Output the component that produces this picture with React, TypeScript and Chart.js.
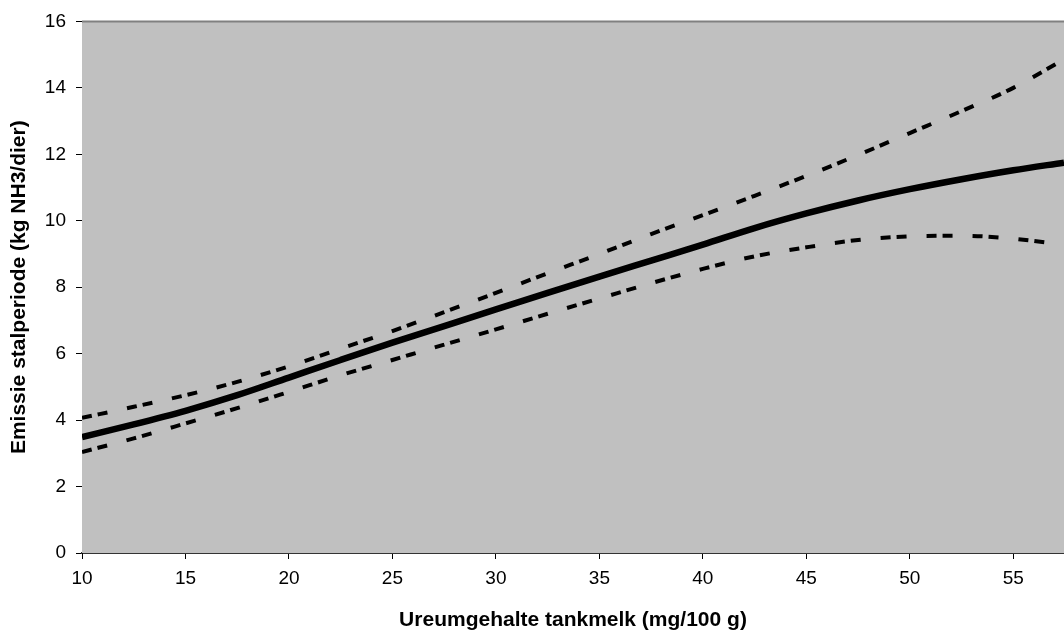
import React, { useEffect, useRef } from "react";
import { Chart, registerables } from "chart.js";

Chart.register(...registerables);

const xValues = [10, 12.5, 15, 17.5, 20, 22.5, 25, 27.5, 30, 32.5, 35, 37.5, 40, 42.5, 45, 47.5, 50, 52.5, 55, 57.45];
const fitValues = [3.49, 3.87, 4.28, 4.75, 5.28, 5.81, 6.33, 6.83, 7.33, 7.83, 8.32, 8.8, 9.28, 9.78, 10.22, 10.61, 10.95, 11.25, 11.52, 11.75];
const upperValues = [4.07, 4.4, 4.75, 5.15, 5.62, 6.15, 6.68, 7.25, 7.83, 8.42, 9.0, 9.6, 10.17, 10.75, 11.35, 11.98, 12.64, 13.3, 14.0, 14.86];
const lowerValues = [3.04, 3.45, 3.9, 4.36, 4.85, 5.35, 5.81, 6.27, 6.73, 7.2, 7.66, 8.12, 8.55, 8.93, 9.2, 9.42, 9.53, 9.55, 9.46, 9.28];
const xTicks = [10, 15, 20, 25, 30, 35, 40, 45, 50, 55];
const yTicks = [0, 2, 4, 6, 8, 10, 12, 14, 16];

const xTitle = "Ureumgehalte tankmelk (mg/100 g)";
const yTitle = "Emissie stalperiode (kg NH3/dier)";

const toPoints = (ys: number[]) => xValues.map((x, i) => ({ x, y: ys[i] }));

const plotFrame = {
  id: "plotFrame",
  beforeDatasetsDraw(chart: any) {
    const { ctx, chartArea } = chart;
    const { left, top, right, bottom } = chartArea;
    ctx.save();
    ctx.fillStyle = "#C0C0C0";
    ctx.fillRect(left, top, right - left, bottom - top);
    ctx.strokeStyle = "#808080";
    ctx.lineWidth = 2;
    ctx.beginPath();
    ctx.moveTo(left, top);
    ctx.lineTo(right, top);
    ctx.stroke();
    ctx.restore();
  },
};

export default function App() {
  const ref = useRef<HTMLCanvasElement | null>(null);

  useEffect(() => {
    if (!ref.current) return;
    const font = "'Liberation Sans', Arial, sans-serif";
    const dashed = {
      borderColor: "#000000",
      borderWidth: 4,
      borderDash: [10, 6, 10, 20],
      pointRadius: 0,
      cubicInterpolationMode: "monotone",
      fill: false,
    };
    const chart = new Chart(ref.current, {
      type: "line",
      data: {
        datasets: [
          { ...dashed, data: toPoints(upperValues) },
          { ...dashed, data: toPoints(lowerValues) },
          {
            data: toPoints(fitValues),
            borderColor: "#000000",
            borderWidth: 6.5,
            pointRadius: 0,
            cubicInterpolationMode: "monotone",
            fill: false,
          },
        ],
      },
      options: {
        animation: false,
        responsive: false,
        maintainAspectRatio: false,
        layout: { padding: { top: 20, right: 0, bottom: 0, left: 0 } },
        plugins: { legend: { display: false }, tooltip: { enabled: false } },
        scales: {
          x: {
            type: "linear",
            min: 10,
            max: 57.45,
            afterBuildTicks: (scale: any) => {
              scale.ticks = xTicks.map((v) => ({ value: v }));
            },
            afterFit: (scale: any) => {
              scale.height = 80;
            },
            grid: {
              drawOnChartArea: false,
              drawTicks: true,
              tickLength: 6,
              tickColor: "#000000",
              tickWidth: 1,
            },
            border: { display: true, color: "#333333", width: 2 },
            ticks: {
              color: "#000000",
              font: { family: font, size: 19 },
              padding: 8,
              maxRotation: 0,
              autoSkip: false,
            },
            title: {
              display: true,
              text: xTitle,
              color: "#000000",
              font: { family: font, size: 21, weight: "bold" },
              padding: { top: 0, bottom: 0 },
            },
          },
          y: {
            type: "linear",
            min: 0,
            max: 16,
            afterBuildTicks: (scale: any) => {
              scale.ticks = yTicks.map((v) => ({ value: v }));
            },
            afterFit: (scale: any) => {
              scale.width = 82;
            },
            grid: {
              drawOnChartArea: false,
              drawTicks: true,
              tickLength: 6,
              tickColor: "#000000",
              tickWidth: 1,
            },
            border: { display: true, color: "#000000", width: 1 },
            ticks: {
              color: "#000000",
              font: { family: font, size: 19 },
              padding: 10,
              autoSkip: false,
            },
            title: {
              display: true,
              text: yTitle,
              color: "#000000",
              font: { family: font, size: 21, weight: "bold" },
              padding: { top: 7, bottom: 0 },
            },
          },
        },
      },
      plugins: [plotFrame],
    } as any);
    return () => chart.destroy();
  }, []);

  return (
    <div style={{ position: "absolute", left: 0, top: 0, width: 1064, height: 633, background: "#ffffff" }}>
      <canvas ref={ref} width={1064} height={633} style={{ display: "block", width: 1064, height: 633 }} />
    </div>
  );
}
